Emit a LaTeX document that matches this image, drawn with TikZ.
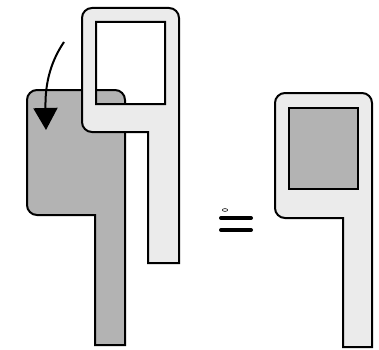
\documentclass[tikz,border=0pt]{standalone}
\usetikzlibrary{arrows.meta}
\definecolor{darkfill}{HTML}{B3B3B3}
\definecolor{lightfill}{HTML}{EBEBEB}
\tikzset{
  outline/.style={draw=black, line width=2pt, line join=miter},
  darkpart/.style={outline, fill=darkfill},
  lightpart/.style={outline, fill=lightfill, even odd rule},
}
\begin{document}
\begin{tikzpicture}[x=1pt,y=1pt]
\useasboundingbox (0,0) rectangle (379,349);
% gray piece (behind)
\draw[darkpart] (95,4) -- (95,134) -- (37,134) arc[start angle=270,end angle=180,radius=10]
  -- (27,249) arc[start angle=180,end angle=90,radius=10]
  -- (115,259) arc[start angle=90,end angle=0,radius=10] -- (125,4) -- cycle;
% light frame with window
\draw[lightpart] (148,86) -- (148,217) -- (92,217) arc[start angle=270,end angle=180,radius=10]
  -- (82,331) arc[start angle=180,end angle=90,radius=10]
  -- (169,341) arc[start angle=90,end angle=0,radius=10] -- (179,86) -- cycle
  (96,245) rectangle (165,327);
% curved arrow
\coordinate (a0) at (64,307);
\coordinate (a1) at (46,219);
\draw[line width=2pt, -{Triangle[length=22pt,width=24pt]}] (a0) .. controls (49,285) and (45,262) .. (a1);
% equals sign
\coordinate (e1) at (221,131); \coordinate (e2) at (251,131);
\coordinate (e3) at (221,119); \coordinate (e4) at (251,119);
\draw[line width=4pt, line cap=round] (e1) -- (e2);
\draw[line width=4pt, line cap=round] (e3) -- (e4);
\draw[line width=0.6pt] (225,139) ellipse[x radius=2.6, y radius=1.4];
% result
\draw[outline, fill=lightfill] (343,2) -- (343,131) -- (285,131) arc[start angle=270,end angle=180,radius=10]
  -- (275,246) arc[start angle=180,end angle=90,radius=10]
  -- (362,256) arc[start angle=90,end angle=0,radius=10] -- (372,2) -- cycle;
\draw[darkpart] (289,160) rectangle (358,241);
\end{tikzpicture}
\end{document}
